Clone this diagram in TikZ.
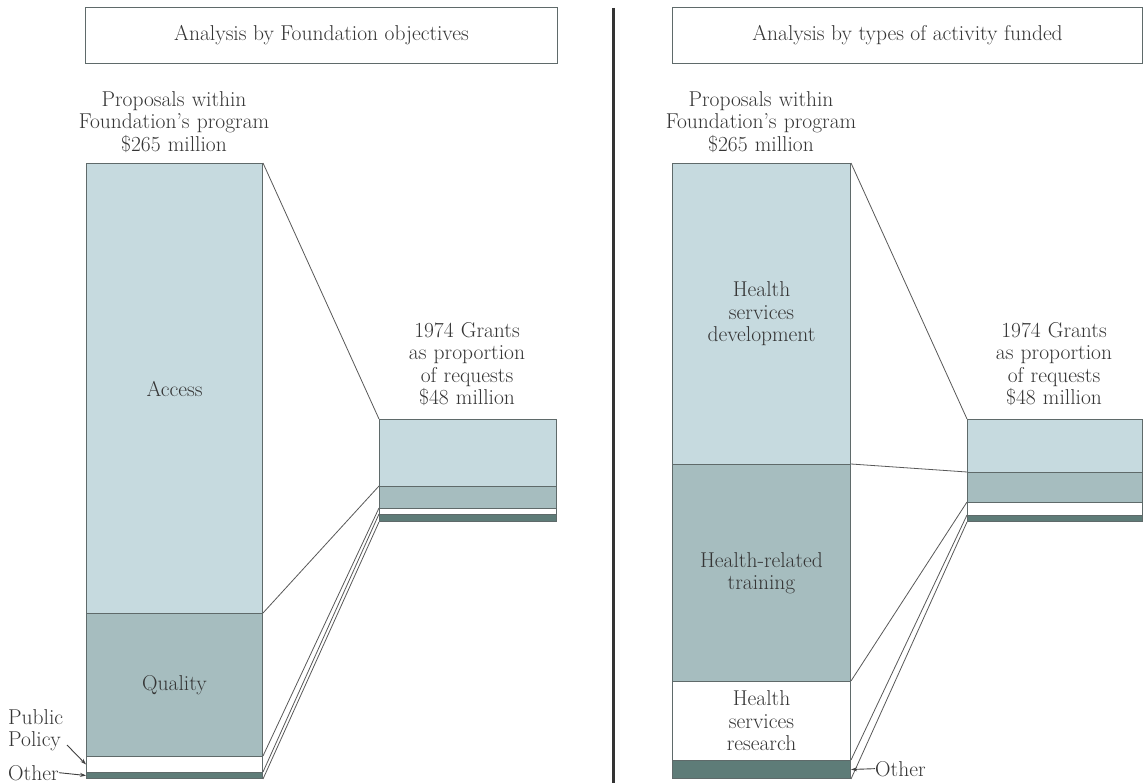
\documentclass[tikz,border=0pt]{standalone}
\usepackage{fontspec}
\usetikzlibrary{arrows.meta}
\definecolor{lightseg}{HTML}{C6DADF}
\definecolor{midseg}{HTML}{A6BDBF}
\definecolor{darkseg}{HTML}{5E7C78}
\definecolor{edgegrey}{HTML}{5F6A6A}
\definecolor{txtgrey}{HTML}{353535}
\newcommand{\figfont}{\fontsize{21.5}{22.5}\selectfont\addfontfeatures{LetterSpace=8}}
\begin{document}
\begin{tikzpicture}[x=1pt,y=-1pt,
  seg/.style={draw=edgegrey,line width=1pt,inner sep=0pt,anchor=north west,
    font=\figfont,text=txtgrey,align=center},
  lbl/.style={font=\figfont,text=txtgrey,inner sep=0pt},
  blockl/.style={lbl,text width=250pt,align=center,anchor=north},
  titlebox/.style={draw=edgegrey,line width=1pt,inner sep=0pt,anchor=north west,
    font=\figfont,text=txtgrey},
  conn/.style={draw=black!65,line width=0.8pt},
  ptr/.style={draw=black!75,line width=0.9pt,-{Stealth[length=6pt,width=4pt]}}]
\useasboundingbox (0,0) rectangle (1143,783);
\fill[white] (0,0) rectangle (1143,783);

% divider
\coordinate (divtop) at (613,8);
\coordinate (divbot) at (613,783);
\draw[line width=3pt,black!80] (divtop) -- (divbot);

% titles
\node[titlebox,minimum width=472pt,minimum height=56pt] (tleft) at (85,7) {Analysis by Foundation objectives};
\node[titlebox,minimum width=470pt,minimum height=56pt] (tright) at (672,7) {Analysis by types of activity funded};

% headings
\node[blockl] (propL) at (174,91) {Proposals within\\Foundation's program\\\$265 million};
\node[blockl] (propR) at (761,91) {Proposals within\\Foundation's program\\\$265 million};
\node[blockl] (grantL) at (467,322) {1974 Grants\\as proportion\\of requests\\\$48 million};
\node[blockl] (grantR) at (1054,322) {1974 Grants\\as proportion\\of requests\\\$48 million};

% left big bar
\node[seg,fill=lightseg,minimum width=176pt,minimum height=450pt] (access) at (86,163) {Access};
\node[seg,fill=midseg,minimum width=176pt,minimum height=143pt] (quality) at (86,613) {Quality};
\node[seg,fill=white,minimum width=176pt,minimum height=16pt] (policy) at (86,756) {};
\node[seg,fill=darkseg,minimum width=176pt,minimum height=6pt] (other) at (86,772) {};

% left small bar
\node[seg,fill=lightseg,minimum width=177pt,minimum height=67pt] (gaccess) at (379,419) {};
\node[seg,fill=midseg,minimum width=177pt,minimum height=22pt] (gquality) at (379,486) {};
\node[seg,fill=white,minimum width=177pt,minimum height=6pt] (gpolicy) at (379,508) {};
\node[seg,fill=darkseg,minimum width=177pt,minimum height=7pt] (gother) at (379,514) {};

% right big bar
\node[seg,fill=lightseg,minimum width=178pt,minimum height=301pt] (hsd) at (672,163) {Health\\services\\development};
\node[seg,fill=midseg,minimum width=178pt,minimum height=217pt] (hrt) at (672,464) {Health-related\\training};
\node[seg,fill=white,minimum width=178pt,minimum height=79pt] (hsr) at (672,681) {Health\\services\\research};
\node[seg,fill=darkseg,minimum width=178pt,minimum height=18pt] (oth) at (672,760) {};

% right small bar
\node[seg,fill=lightseg,minimum width=175pt,minimum height=53pt] (ghsd) at (967,419) {};
\node[seg,fill=midseg,minimum width=175pt,minimum height=30pt] (ghrt) at (967,472) {};
\node[seg,fill=white,minimum width=175pt,minimum height=13pt] (ghsr) at (967,502) {};
\node[seg,fill=darkseg,minimum width=175pt,minimum height=6pt] (goth) at (967,515) {};

% connectors left
\draw[conn] (access.north east) -- (gaccess.north west);
\draw[conn] (quality.north east) -- (gquality.north west);
\draw[conn] (policy.north east) -- (gpolicy.north west);
\draw[conn] (other.north east) -- (gother.north west);
\draw[conn] (other.south east) -- (gother.south west);

% connectors right
\draw[conn] (hsd.north east) -- (ghsd.north west);
\draw[conn] (hrt.north east) -- (ghrt.north west);
\draw[conn] (hsr.north east) -- (ghsr.north west);
\draw[conn] (oth.north east) -- (goth.north west);
\draw[conn] (oth.south east) -- (goth.south west);

% side labels
\node[lbl,anchor=north west,align=left] (pubpol) at (8,709) {Public\\Policy};
\coordinate (ppstart) at (67,745);
\draw[ptr] (ppstart) -- (policy.west);
\node[lbl,anchor=base west] (otherL) at (8,780) {Other};
\draw[ptr] (otherL.east) -- (other.west);
\node[lbl,anchor=base west] (otherR) at (875,776) {Other};
\draw[ptr] (otherR.west) -- (oth.east);
\end{tikzpicture}
\end{document}
